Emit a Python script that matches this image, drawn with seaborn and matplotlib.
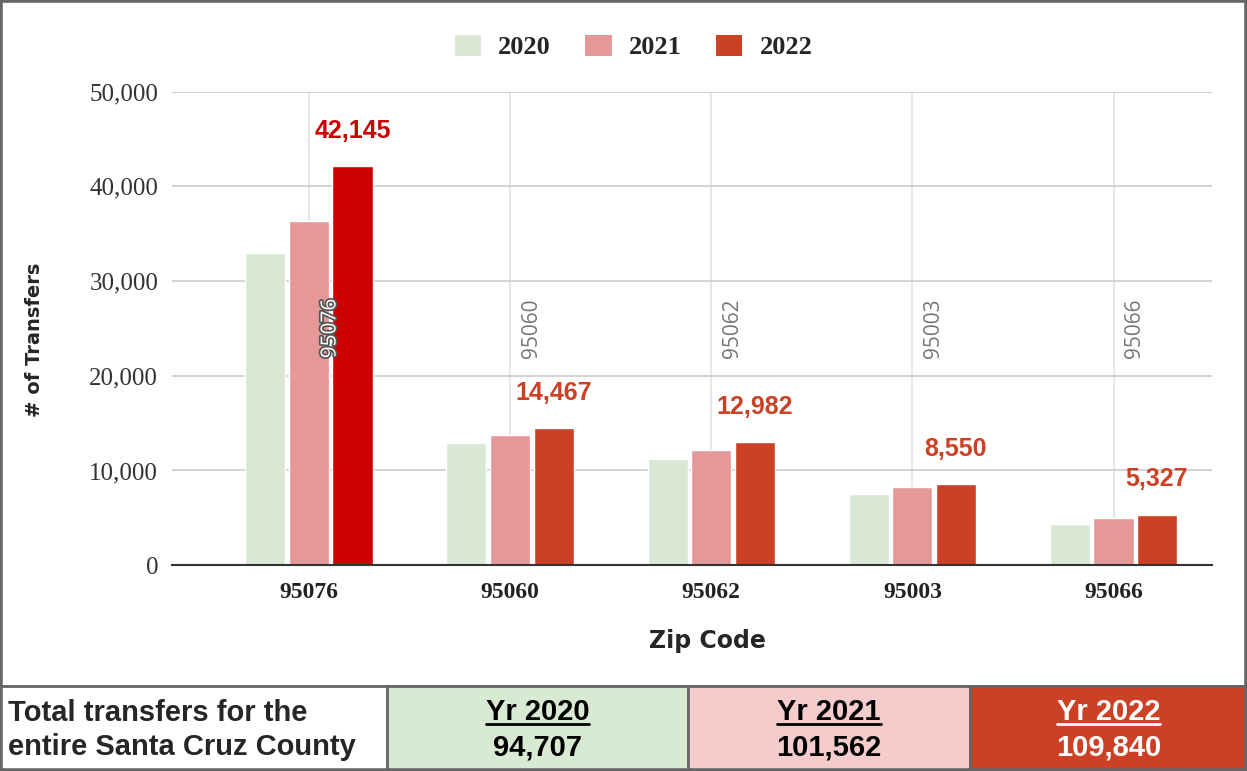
import pandas as pd
import numpy as np
import matplotlib.pyplot as plt
import seaborn as sns
from matplotlib.patches import Rectangle, Patch
from matplotlib.lines import Line2D
import matplotlib.patheffects as pe

# chart data
zips = ["95076", "95060", "95062", "95003", "95066"]
years = ["2020", "2021", "2022"]
v2020 = [33000, 12950, 11250, 7500, 4330]
v2021 = [36400, 13750, 12200, 8250, 4950]
v2022 = [42145, 14467, 12982, 8550, 5327]

# county totals for the table underneath
total_label = "Total transfers for the\nentire Santa Cruz County"
totals = [94707, 101562, 109840]

colors = ["#d9e8d5", "#e69797", "#cc4125"]
cell_colors = ["#d9ead3", "#f4cccc", "#cc4125"]
cell_text = ["black", "black", "white"]

df = pd.DataFrame({"zip": zips * 3,
                   "year": [y for y in years for _ in zips],
                   "transfers": v2020 + v2021 + v2022})

sns.set_style("white")
fig = plt.figure(figsize=(12.47, 7.71), dpi=100)
ax = fig.add_axes([0.138, 0.267, 0.834, 0.614])

sns.barplot(data=df, x="zip", y="transfers", hue="year", order=zips,
            hue_order=years, palette=colors, width=0.65, gap=0.08,
            saturation=1, ax=ax, legend=False)

# top bar for 95076 is a brighter red
ax.containers[2][0].set_facecolor("#cc0000")

ax.set_ylim(0, 50000)
ax.set_xlim(-0.68, 4.49)
ax.set_yticks(range(0, 50001, 10000))
ax.set_yticklabels([f"{t:,}" for t in range(0, 50001, 10000)],
                   family="Liberation Serif", fontsize=18, color="#333")
ax.set_xticks(range(len(zips)))
ax.set_xticklabels(zips, family="Liberation Serif", fontsize=17,
                   fontweight="bold", color="#222")
ax.tick_params(axis="y", length=0, pad=10)
ax.tick_params(axis="x", length=0, pad=12)
ax.set_xlabel("")
ax.set_ylabel("")
ax.yaxis.grid(True, color="#cccccc", lw=1.2)
ax.xaxis.grid(True, color="#e3e3e3", lw=1.2)
ax.set_axisbelow(True)
for s in ["left", "right", "top"]:
    ax.spines[s].set_visible(False)
ax.spines["bottom"].set_color("#333333")
ax.spines["bottom"].set_linewidth(1.5)

# value labels on 2022 bars
labs = ax.bar_label(ax.containers[2], labels=[f"{v:,}" for v in v2022],
                    padding=17, family="Liberation Sans", fontweight="bold",
                    fontsize=18)
for i, t in enumerate(labs):
    t.set_color("#cc0000" if i == 0 else "#cc4125")

# rotated zip names in the plot area
for i, z in enumerate(zips):
    if i == 0:
        ax.text(i + 0.105, 25000, z, rotation=90, ha="center", va="center",
                fontsize=15, color="white", family="Open Sans",
                path_effects=[pe.withStroke(linewidth=2.5, foreground="#555")])
    else:
        ax.text(i + 0.105, 25000, z, rotation=90, ha="center", va="center",
                fontsize=15, color="#777777", family="Open Sans")

fig.text(0.028, 0.559, "# of Transfers", rotation=90, ha="center",
         va="center", fontsize=14, fontweight="bold", family="DejaVu Sans")
fig.text(0.567, 0.169, "Zip Code", ha="center", va="center", fontsize=17,
         fontweight="bold", family="DejaVu Sans")

handles = [Patch(facecolor=c, edgecolor="none") for c in colors]
fig.legend(handles, years, loc="center", bbox_to_anchor=(0.508, 0.939),
           ncol=3, frameon=False, prop={"family": "Liberation Serif",
                                        "weight": "bold", "size": 19},
           handlelength=1.0, handleheight=0.85, columnspacing=1.3,
           handletextpad=0.65)

# totals table at the bottom
W, H = 1247, 771
edges = [0, 387, 688, 970, 1247]
row_h = (H - 686) / H
fig.patches.append(Rectangle((0, 0), 1, row_h, transform=fig.transFigure,
                             facecolor="white", edgecolor="#666", lw=2))
for j in range(3):
    x0 = edges[j + 1] / W
    w = (edges[j + 2] - edges[j + 1]) / W
    fig.patches.append(Rectangle((x0, 0), w, row_h, transform=fig.transFigure,
                                 facecolor=cell_colors[j], edgecolor="#666",
                                 lw=2))

tfont = ["Liberation Sans Narrow", "Liberation Sans"]
fig.text(8 / W, 1 - 730 / H, total_label, ha="left", va="center",
         fontsize=21, fontweight="bold", family=tfont, linespacing=1.3)

heads = []
for j, y in enumerate(years):
    xc = (edges[j + 1] + edges[j + 2]) / 2 / W
    h = fig.text(xc, 1 - 712 / H, f"Yr {y}", ha="center", va="center",
                 fontsize=21, fontweight="bold", family=tfont,
                 color=cell_text[j])
    heads.append(h)
    fig.text(xc, 1 - 748 / H, f"{totals[j]:,}", ha="center", va="center",
             fontsize=21, fontweight="bold", family=tfont, color=cell_text[j])

# underline the year headers
fig.canvas.draw()
r = fig.canvas.get_renderer()
for j, h in enumerate(heads):
    bb = h.get_window_extent(r)
    fig.add_artist(Line2D([bb.x0 / W, bb.x1 / W], [(bb.y0 + 2) / H] * 2,
                          transform=fig.transFigure, color=cell_text[j],
                          lw=2))

# outer frame
fig.patches.append(Rectangle((0, 0), 1, 1, transform=fig.transFigure,
                             facecolor="none", edgecolor="#666", lw=4))

fig.savefig("out.png", dpi=100)
